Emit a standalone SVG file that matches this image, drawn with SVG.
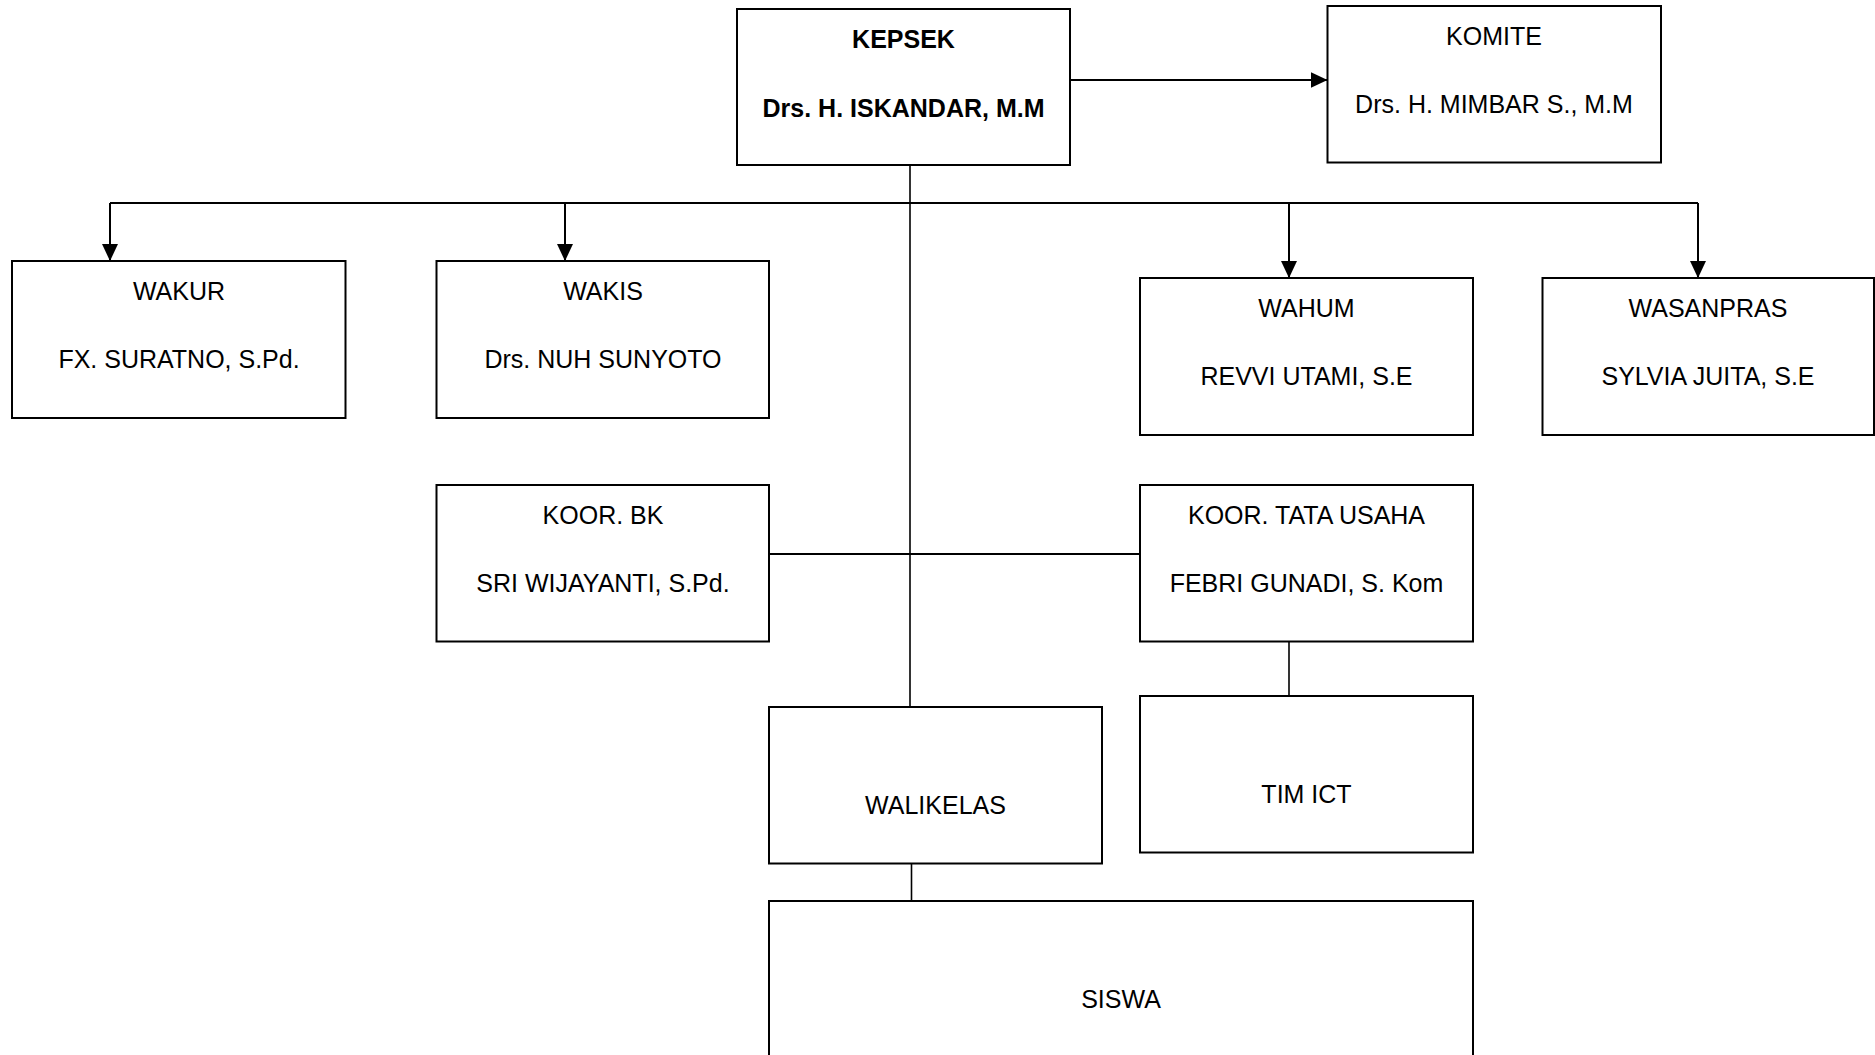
<svg xmlns="http://www.w3.org/2000/svg" width="1875" height="1055" viewBox="0 0 1875 1055">
  <style>
    .box { fill: #ffffff; stroke: #000000; stroke-width: 2; }
    .t { font-family: "Liberation Sans", Arial, sans-serif; font-size: 25px; fill: #000000; text-anchor: middle; }
    .b { font-weight: bold; }
    .arr { fill: none; stroke: #000000; stroke-width: 2; marker-end: url(#ah); }
    .ln { fill: none; stroke: #000000; stroke-width: 1.6; }
  </style>
  <defs>
    <marker id="ah" markerUnits="userSpaceOnUse" markerWidth="17" markerHeight="16" refX="17" refY="8" orient="auto">
      <path d="M0,0 L17,8 L0,16 Z" fill="#000000"/>
    </marker>
  </defs>
  <rect width="1875" height="1055" fill="#ffffff"/>

  <g id="connectors">
    <line class="arr" x1="1070" y1="80" x2="1327.5" y2="80"/>
    <line class="ln" x1="910" y1="165" x2="910" y2="707"/>
    <polyline class="ln" points="110,203 1698,203" style="stroke-width:2"/>
    <line class="arr" x1="110" y1="203" x2="110" y2="261"/>
    <line class="arr" x1="565" y1="203" x2="565" y2="261"/>
    <line class="arr" x1="1289" y1="203" x2="1289" y2="278"/>
    <line class="arr" x1="1698" y1="203" x2="1698" y2="278"/>
    <line class="ln" x1="769" y1="554" x2="1140" y2="554" style="stroke-width:2"/>
    <line class="ln" x1="1289" y1="641" x2="1289" y2="696"/>
    <line class="ln" x1="911.5" y1="863" x2="911.5" y2="901"/>
  </g>

  <g id="kepsek">
    <rect class="box" x="737" y="9" width="333" height="156"/>
    <text class="t b" x="903.5" y="48">KEPSEK</text>
    <text class="t b" x="903.5" y="116.5">Drs. H. ISKANDAR, M.M</text>
  </g>
  <g id="komite">
    <rect class="box" x="1327.5" y="6" width="333.5" height="156.5"/>
    <text class="t" x="1494" y="45">KOMITE</text>
    <text class="t" x="1494" y="113">Drs. H. MIMBAR S., M.M</text>
  </g>
  <g id="wakur">
    <rect class="box" x="12" y="261" width="333.5" height="157"/>
    <text class="t" x="179" y="300">WAKUR</text>
    <text class="t" x="179" y="368">FX. SURATNO, S.Pd.</text>
  </g>
  <g id="wakis">
    <rect class="box" x="436.5" y="261" width="332.5" height="157"/>
    <text class="t" x="603" y="300">WAKIS</text>
    <text class="t" x="603" y="368">Drs. NUH SUNYOTO</text>
  </g>
  <g id="wahum">
    <rect class="box" x="1140" y="278" width="333" height="157"/>
    <text class="t" x="1306.5" y="317">WAHUM</text>
    <text class="t" x="1306.5" y="385">REVVI UTAMI, S.E</text>
  </g>
  <g id="wasanpras">
    <rect class="box" x="1542.5" y="278" width="331.5" height="157"/>
    <text class="t" x="1708" y="317">WASANPRAS</text>
    <text class="t" x="1708" y="385">SYLVIA JUITA, S.E</text>
  </g>
  <g id="koor-bk">
    <rect class="box" x="436.5" y="485" width="332.5" height="156.5"/>
    <text class="t" x="603" y="524">KOOR. BK</text>
    <text class="t" x="603" y="591.5">SRI WIJAYANTI, S.Pd.</text>
  </g>
  <g id="koor-tu">
    <rect class="box" x="1140" y="485" width="333" height="156.5"/>
    <text class="t" x="1306.5" y="524">KOOR. TATA USAHA</text>
    <text class="t" x="1306.5" y="591.5">FEBRI GUNADI, S. Kom</text>
  </g>
  <g id="tim-ict">
    <rect class="box" x="1140" y="696" width="333" height="156.5"/>
    <text class="t" x="1306.5" y="803">TIM ICT</text>
  </g>
  <g id="walikelas">
    <rect class="box" x="769" y="707" width="333" height="156.5"/>
    <text class="t" x="935.5" y="814">WALIKELAS</text>
  </g>
  <g id="siswa">
    <rect class="box" x="769" y="901" width="704" height="170"/>
    <text class="t" x="1121" y="1008">SISWA</text>
  </g>
</svg>
